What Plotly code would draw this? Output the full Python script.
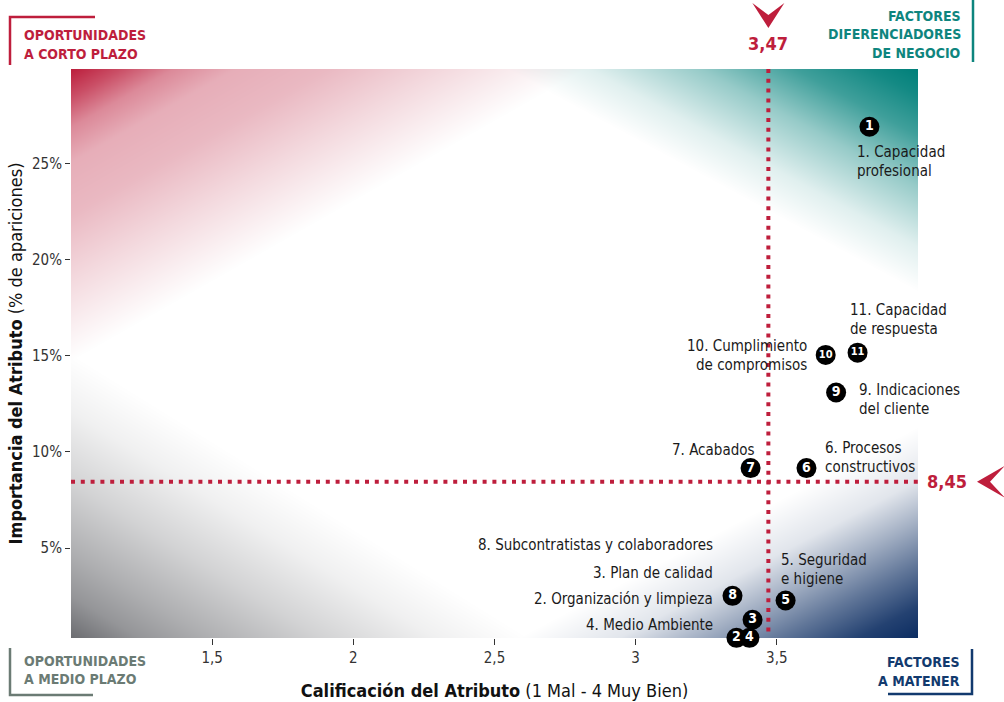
import base64
import struct
import zlib

import numpy as np
import plotly.graph_objects as go

# ---------------- data ----------------
ids = [1, 2, 3, 4, 5, 6, 7, 8, 9, 10, 11]
names = [
    "Capacidad<br>profesional",
    "Organización y limpieza",
    "Plan de calidad",
    "Medio Ambiente",
    "Seguridad<br>e higiene",
    "Procesos<br>constructivos",
    "Acabados",
    "Subcontratistas y colaboradores",
    "Indicaciones<br>del cliente",
    "Cumplimiento<br>de compromisos",
    "Capacidad<br>de respuesta",
]
calificacion = [3.828, 3.357, 3.414, 3.403, 3.531, 3.605, 3.407, 3.343, 3.710, 3.673, 3.786]
importancia = [26.90, 0.34, 1.28, 0.34, 2.28, 9.16, 9.16, 2.52, 13.09, 15.04, 15.16]
umbral_calificacion = 3.47
umbral_importancia = 8.45
x_ticks = [1.5, 2, 2.5, 3, 3.5]
y_ticks = [5, 10, 15, 20, 25]
y_ticklabels = ["5%", "10%", "15%", "20%", "25%"]
cuadrantes = {
    "tl": ["OPORTUNIDADES", "A CORTO PLAZO"],
    "tr": ["FACTORES", "DIFERENCIADORES", "DE NEGOCIO"],
    "bl": ["OPORTUNIDADES", "A MEDIO PLAZO"],
    "br": ["FACTORES", "A MATENER"],
}

# ---------------- layout constants ----------------
W, H = 1004, 702
L, R, T, B = 71, 86, 69, 64
PW, PH = W - L - R, H - T - B
x_range = [1.0, 4.0]
y_range = [0.33, 29.9]

FONT = "DejaVu Sans Condensed, Liberation Sans Narrow, Roboto Condensed, sans-serif"
CRIMSON = "#BE1E3C"
TEAL = "#0E857E"
NAVY = "#123A6E"
GREYTXT = "#6B7B74"
TXT = "#1a1a1a"


def pxx(px):
    return (px - L) / PW


def pxy(py):
    return (H - B - py) / PH


# ---------------- background gradient (PNG) ----------------
def png_uri(rgb):
    h, w, _ = rgb.shape
    raw = b"".join(b"\x00" + rgb[r].tobytes() for r in range(h))

    def chunk(tag, data):
        c = struct.pack(">I", len(data)) + tag + data
        return c + struct.pack(">I", zlib.crc32(tag + data) & 0xFFFFFFFF)

    png = (b"\x89PNG\r\n\x1a\n"
           + chunk(b"IHDR", struct.pack(">IIBBBBB", w, h, 8, 2, 0, 0, 0))
           + chunk(b"IDAT", zlib.compress(raw, 9))
           + chunk(b"IEND", b""))
    return "data:image/png;base64," + base64.b64encode(png).decode()


xx, yy = np.meshgrid(np.arange(PW) + 0.5, np.arange(PH) + 0.5)
dark = np.zeros((PH, PW, 3))


def add_corner(color, ox, oy, a, b, stops, alphas):
    global dark
    d = ox / a + oy / b
    alpha = np.interp(d, stops, alphas, right=0.0)
    col = np.array(color, dtype=float)
    dark += alpha[..., None] * (255 - col)[None, None, :]


# top-left crimson
add_corner((188, 30, 60), xx, yy, 515, 292,
           [0, 0.1, 0.2, 0.32, 0.5, 0.72, 1.0], [1.0, 0.78, 0.52, 0.36, 0.31, 0.17, 0.0])
# top-right teal
add_corner((0, 128, 122), PW - xx, yy, 411, 222,
           [0, 0.12, 0.3, 0.53, 0.8, 1.0], [1.0, 0.92, 0.75, 0.41, 0.12, 0.0])
# bottom-right navy
add_corner((12, 45, 98), PW - xx, PH - yy, 398, 210,
           [0, 0.15, 0.35, 0.55, 0.75, 1.0], [1.0, 0.9, 0.65, 0.38, 0.12, 0.0])
# bottom-left grey
add_corner((108, 109, 113), xx, PH - yy, 456, 283,
           [0, 0.15, 0.3, 0.55, 0.8, 1.0], [1.0, 0.72, 0.55, 0.3, 0.1, 0.0])

img = np.clip(255 - dark, 0, 255).astype(np.uint8)
bg_uri = png_uri(img)

# ---------------- figure ----------------
fig = go.Figure()

fig.add_trace(go.Scatter(
    x=calificacion, y=importancia,
    mode="markers+text",
    text=[str(i) for i in ids],
    textposition="middle center",
    textfont=dict(family=FONT, size=[14 if i < 10 else 11 for i in ids], color="white", weight="bold"),
    marker=dict(size=20, color="black", line=dict(width=0)),
    cliponaxis=False,
    hoverinfo="skip",
    showlegend=False,
))

shapes = []
# threshold dotted lines
shapes.append(dict(type="line", xref="x", yref="paper", x0=umbral_calificacion, x1=umbral_calificacion,
                   y0=1, y1=pxy(636), line=dict(color=CRIMSON, width=4, dash="4px,5.8px")))
shapes.append(dict(type="line", xref="paper", yref="y", x0=0, x1=1,
                   y0=umbral_importancia, y1=umbral_importancia,
                   line=dict(color=CRIMSON, width=4, dash="4px,5.8px")))

# chevrons
dxu = 16 / (PW / (x_range[1] - x_range[0]))
xc = umbral_calificacion
shapes.append(dict(
    type="path", xref="x", yref="paper",
    path=(f"M {xc - dxu} {pxy(3)} L {xc} {pxy(15)} L {xc + dxu} {pxy(3)} "
          f"L {xc} {pxy(28)} Z"),
    fillcolor=CRIMSON, line=dict(width=0)))
dyu = 16 / (PH / (y_range[1] - y_range[0]))
yc = umbral_importancia
shapes.append(dict(
    type="path", xref="paper", yref="y",
    path=(f"M {pxx(1005)} {yc + dyu} L {pxx(990)} {yc} L {pxx(1005)} {yc - dyu} "
          f"L {pxx(977)} {yc} Z"),
    fillcolor=CRIMSON, line=dict(width=0)))


def bracket(pts, color):
    p = " L ".join(f"{pxx(a)} {pxy(b)}" for a, b in pts)
    shapes.append(dict(type="path", xref="paper", yref="paper", path="M " + p,
                       line=dict(color=color, width=2.5)))


bracket([(95, 17), (10, 17), (10, 65)], CRIMSON)
bracket([(973, 0), (973, 62)], TEAL)
bracket([(10, 648), (10, 695), (93, 695)], GREYTXT)
bracket([(972, 649), (972, 694), (888, 694)], NAVY)

annotations = []


def lines(texts, px, py0, step, anchor, color, size, bold=False):
    for k, t in enumerate(texts):
        annotations.append(dict(
            xref="paper", yref="paper", x=pxx(px), y=pxy(py0 + k * step),
            text=f"<b>{t}</b>" if bold else t, showarrow=False,
            xanchor=anchor, yanchor="middle",
            font=dict(family=FONT, size=size, color=color)))


lines(cuadrantes["tl"], 22, 35, 18.5, "left", CRIMSON, 14, True)
lines(cuadrantes["tr"], 963, 16, 18.5, "right", TEAL, 14, True)
lines(cuadrantes["bl"], 22, 661, 18, "left", GREYTXT, 14, True)
lines(cuadrantes["br"], 962, 662, 18.5, "right", NAVY, 14, True)

# threshold values
fmt = lambda v: f"{v:.2f}".replace(".", ",")
annotations.append(dict(xref="x", yref="paper", x=umbral_calificacion, y=pxy(44),
                        text=f"<b>{fmt(umbral_calificacion)}</b>", showarrow=False,
                        xanchor="center", yanchor="middle",
                        font=dict(family=FONT, size=18, color=CRIMSON)))
annotations.append(dict(xref="paper", yref="y", x=pxx(947), y=umbral_importancia,
                        text=f"<b>{fmt(umbral_importancia)}</b>", showarrow=False,
                        xanchor="center", yanchor="middle",
                        font=dict(family=FONT, size=18, color=CRIMSON)))

# point labels: (anchor x px, first-line centre y px, xanchor)
label_pos = {
    1: (855, 152, "left"),
    2: (715, 599, "right"),
    3: (715, 573, "right"),
    4: (715, 625, "right"),
    5: (779, 560, "left"),
    6: (823, 448, "left"),
    7: (757, 450, "right"),
    8: (715, 545, "right"),
    9: (857, 390, "left"),
    10: (809, 346, "right"),
    11: (848, 310, "left"),
}
for i, name in zip(ids, names):
    parts = f"{i}. {name}".split("<br>")
    px, py, anc = label_pos[i]
    lines(parts, px, py, 19, anc, TXT, 15)

fig.update_layout(
    width=W, height=H,
    margin=dict(l=L, r=R, t=T, b=B, autoexpand=False),
    paper_bgcolor="white", plot_bgcolor="white",
    separators=",.",
    font=dict(family=FONT, color="#333333"),
    shapes=shapes, annotations=annotations,
    images=[dict(source=bg_uri, xref="x", yref="y", x=x_range[0], y=y_range[1],
                 sizex=x_range[1] - x_range[0], sizey=y_range[1] - y_range[0],
                 sizing="stretch", layer="below", xanchor="left", yanchor="top")],
    xaxis=dict(range=x_range, tickvals=x_ticks, showgrid=False, zeroline=False,
               showline=False, ticks="outside", ticklen=6, tickcolor="#333333",
               automargin=False,
               tickfont=dict(size=15, color="#333333"),
               title=dict(text="<b>Calificación del Atributo</b> (1 Mal - 4 Muy Bien)",
                          font=dict(size=18, color="#111111"), standoff=18)),
    yaxis=dict(range=y_range, tickvals=y_ticks, ticktext=y_ticklabels, showgrid=False,
               zeroline=False, showline=False, ticks="outside", ticklen=5,
               automargin=False,
               tickcolor="#333333", tickfont=dict(size=15, color="#333333"),
               title=dict(text="<b>Importancia del Atributo</b> (% de apariciones)",
                          font=dict(size=18, color="#111111"), standoff=4)),
)

fig.write_html("out.html", config={"displayModeBar": False},
               post_script="document.body.style.margin='0';")
